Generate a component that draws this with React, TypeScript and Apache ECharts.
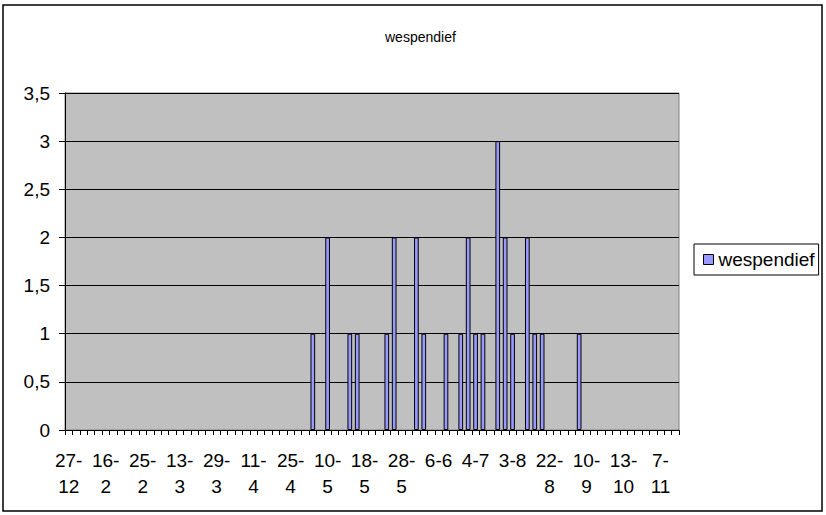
import React, { useEffect, useRef } from "react";
import * as echarts from "echarts";

const categories: string[] = [
  "27-12", "4-1", "12-1", "21-1", "2-2",
  "16-2", "18-2", "20-2", "22-2", "24-2",
  "25-2", "1-3", "4-3", "8-3", "11-3",
  "13-3", "17-3", "20-3", "23-3", "26-3",
  "29-3", "1-4", "4-4", "6-4", "9-4",
  "11-4", "14-4", "17-4", "20-4", "22-4",
  "25-4", "28-4", "1-5", "4-5", "7-5",
  "10-5", "12-5", "14-5", "15-5", "17-5",
  "18-5", "20-5", "22-5", "24-5", "26-5",
  "28-5", "30-5", "1-6", "3-6", "4-6",
  "6-6", "10-6", "16-6", "22-6", "28-6",
  "4-7", "10-7", "16-7", "22-7", "28-7",
  "3-8", "7-8", "11-8", "15-8", "19-8",
  "22-8", "26-8", "30-8", "3-9", "7-9",
  "10-9", "16-9", "22-9", "29-9", "6-10",
  "13-10", "20-10", "27-10", "31-10", "3-11",
  "7-11", "14-11", "21-11",
];

const wespendief: (number | null)[] = [
  null, null, null, null, null, null, null, null, null, null,
  null, null, null, null, null, null, null, null, null, null,
  null, null, null, null, null, null, null, null, null, null,
  null, null, null, 1, null, 2, null, null, 1, 1,
  null, null, null, 1, 2, null, null, 2, 1, null,
  null, 1, null, 1, 2, 1, 1, null, 3, 2,
  1, null, 2, 1, 1, null, null, null, null, 1,
  null, null, null, null, null, null, null, null, null, null,
  null, null, null,
];

const yTicks = { min: 0, max: 3.5, interval: 0.5 };

export default function App() {
  const ref = useRef<HTMLDivElement>(null);
  useEffect(() => {
    if (!ref.current) return;
    const chart = echarts.init(ref.current, null, { renderer: "svg" });
    const font = "Liberation Sans, Arial, sans-serif";
    chart.setOption({
      animation: false,
      backgroundColor: "#ffffff",
      textStyle: { fontFamily: font, color: "#000" },
      title: {
        text: "wespendief",
        left: 385,
        top: 30,
        padding: 0,
        textStyle: { fontFamily: font, fontSize: 14, fontWeight: "normal", color: "#000" },
      },
      legend: {
        show: true,
        orient: "vertical",
        left: 694,
        top: 244,
        padding: [6, 4, 6, 9],
        itemWidth: 10,
        itemHeight: 10,
        borderColor: "#000",
        borderWidth: 1,
        backgroundColor: "#fff",
        icon: "rect",
        textStyle: { fontFamily: font, fontSize: 19, color: "#000" },
        itemStyle: { borderColor: "#000", borderWidth: 1 },
        data: ["wespendief"],
      },
      grid: {
        left: 65,
        right: 147,
        top: 93,
        bottom: 85,
        show: true,
        backgroundColor: "#C0C0C0",
        borderColor: "#808080",
        borderWidth: 1,
      },
      xAxis: {
        type: "category",
        data: categories,
        boundaryGap: true,
        axisLine: { lineStyle: { color: "#000", width: 1 } },
        axisTick: { show: true, interval: 0, length: 5, lineStyle: { color: "#000" } },
        axisLabel: {
          interval: 4,
          margin: 17,
          fontFamily: font,
          fontSize: 19,
          color: "#000",
          lineHeight: 26,
          formatter: (v: string) => (v.length > 3 ? v.replace("-", "-\n") : v),
        },
        splitLine: { show: false },
      },
      yAxis: {
        type: "value",
        min: yTicks.min,
        max: yTicks.max,
        interval: yTicks.interval,
        axisLine: { show: true, lineStyle: { color: "#000", width: 1 } },
        axisTick: { show: true, length: 6, lineStyle: { color: "#000" } },
        axisLabel: {
          margin: 15,
          fontFamily: font,
          fontSize: 19,
          color: "#000",
          formatter: (v: number) => String(v).replace(".", ","),
        },
        splitLine: { show: true, lineStyle: { color: "#000", width: 1 } },
      },
      graphic: [
        {
          type: "rect",
          shape: { x: 3, y: 5, width: 819, height: 506 },
          style: { fill: "none", stroke: "#000", lineWidth: 1.5 },
          silent: true,
          z: 100,
        },
      ],
      series: [
        {
          name: "wespendief",
          type: "bar",
          data: wespendief,
          barWidth: 4.7,
          itemStyle: { color: "#9999FF", borderColor: "#000", borderWidth: 1 },
        },
      ],
    });
    return () => chart.dispose();
  }, []);
  return (
    <div
      ref={ref}
      style={{ position: "fixed", left: 0, top: 0, width: 826, height: 515, background: "#fff" }}
    />
  );
}
